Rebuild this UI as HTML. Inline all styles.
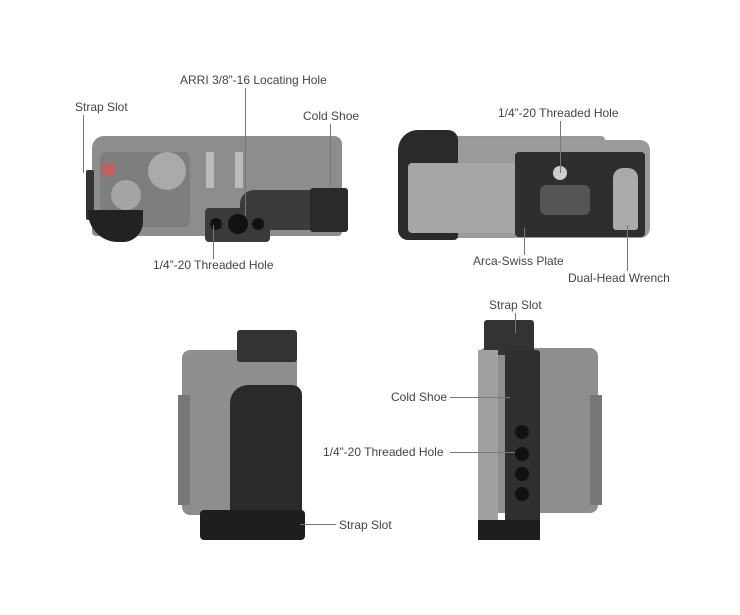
<!DOCTYPE html>
<html><head><style>
body{margin:0;background:#fff;}
#c{position:relative;width:740px;height:615px;overflow:hidden;background:#fff;font-family:"Liberation Sans",sans-serif;}
.t{position:absolute;font-size:12px;color:#444;white-space:nowrap;}
.b{position:absolute;}
.l{position:absolute;background:#777;}
</style></head><body><div id="c">
<div class="b" style="left:92px;top:136px;width:250px;height:100px;background:#8d8d8d;border-radius:12px 8px 4px 4px;"></div>
<div class="b" style="left:100px;top:152px;width:90px;height:75px;background:#7e7e7e;border-radius:6px;"></div>
<div class="b" style="left:102px;top:163px;width:14px;height:14px;background:#c06060;border-radius:50%;"></div>
<div class="b" style="left:111px;top:180px;width:30px;height:30px;background:#a5a5a5;border-radius:50%;"></div>
<div class="b" style="left:148px;top:152px;width:38px;height:38px;background:#aaa;border-radius:50%;"></div>
<div class="b" style="left:206px;top:152px;width:8px;height:36px;background:#bbb;"></div>
<div class="b" style="left:235px;top:152px;width:8px;height:36px;background:#bbb;"></div>
<div class="b" style="left:86px;top:170px;width:8px;height:50px;background:#333;border-radius:2px;"></div>
<div class="b" style="left:88px;top:210px;width:55px;height:32px;background:#222;border-radius:0 0 20px 30px;"></div>
<div class="b" style="left:240px;top:190px;width:102px;height:40px;background:#3b3b3b;border-radius:14px 0 0 0;"></div>
<div class="b" style="left:310px;top:188px;width:38px;height:44px;background:#2a2a2a;border-radius:3px;"></div>
<div class="b" style="left:205px;top:208px;width:65px;height:34px;background:#3a3a3a;border-radius:4px;"></div>
<div class="b" style="left:228px;top:214px;width:20px;height:20px;background:#111;border-radius:50%;"></div>
<div class="b" style="left:210px;top:218px;width:12px;height:12px;background:#111;border-radius:50%;"></div>
<div class="b" style="left:252px;top:218px;width:12px;height:12px;background:#111;border-radius:50%;"></div>
<div class="b" style="left:440px;top:136px;width:165px;height:24px;background:#9a9a9a;border-radius:4px;"></div>
<div class="b" style="left:400px;top:140px;width:250px;height:98px;background:#9b9b9b;border-radius:10px;"></div>
<div class="b" style="left:398px;top:130px;width:60px;height:110px;background:#2a2a2a;border-radius:20px 10px 4px 10px;"></div>
<div class="b" style="left:408px;top:163px;width:110px;height:70px;background:#a6a6a6;border-radius:4px;"></div>
<div class="b" style="left:515px;top:152px;width:130px;height:85px;background:#2e2e2e;border-radius:4px;"></div>
<div class="b" style="left:540px;top:185px;width:50px;height:30px;background:#555;border-radius:6px;"></div>
<div class="b" style="left:553px;top:166px;width:14px;height:14px;background:#ccc;border-radius:50%;"></div>
<div class="b" style="left:613px;top:168px;width:25px;height:62px;background:#aaa;border-radius:10px 10px 3px 3px;"></div>
<div class="b" style="left:182px;top:350px;width:115px;height:165px;background:#8e8e8e;border-radius:8px;"></div>
<div class="b" style="left:178px;top:395px;width:12px;height:110px;background:#777;"></div>
<div class="b" style="left:237px;top:330px;width:60px;height:32px;background:#333;border-radius:3px;"></div>
<div class="b" style="left:230px;top:385px;width:72px;height:130px;background:#2a2a2a;border-radius:18px 10px 4px 4px;"></div>
<div class="b" style="left:200px;top:510px;width:105px;height:30px;background:#1e1e1e;border-radius:4px;"></div>
<div class="b" style="left:478px;top:348px;width:120px;height:165px;background:#8e8e8e;border-radius:8px;"></div>
<div class="b" style="left:590px;top:395px;width:12px;height:110px;background:#777;"></div>
<div class="b" style="left:484px;top:320px;width:50px;height:35px;background:#333;border-radius:3px;"></div>
<div class="b" style="left:478px;top:350px;width:20px;height:175px;background:#a0a0a0;"></div>
<div class="b" style="left:505px;top:350px;width:35px;height:190px;background:#2f2f2f;border-radius:3px;"></div>
<div class="b" style="left:515px;top:425px;width:14px;height:14px;background:#111;border-radius:50%;"></div>
<div class="b" style="left:515px;top:447px;width:14px;height:14px;background:#111;border-radius:50%;"></div>
<div class="b" style="left:515px;top:467px;width:14px;height:14px;background:#111;border-radius:50%;"></div>
<div class="b" style="left:515px;top:487px;width:14px;height:14px;background:#111;border-radius:50%;"></div>
<div class="b" style="left:478px;top:520px;width:62px;height:20px;background:#1e1e1e;"></div>
<div class="l" style="left:245px;top:88px;width:1px;height:128px;"></div>
<div class="l" style="left:83px;top:115px;width:1px;height:58px;"></div>
<div class="l" style="left:330px;top:124px;width:1px;height:63px;"></div>
<div class="l" style="left:213px;top:225px;width:1px;height:34px;"></div>
<div class="l" style="left:560px;top:121px;width:1px;height:52px;"></div>
<div class="l" style="left:524px;top:228px;width:1px;height:27px;"></div>
<div class="l" style="left:627px;top:225px;width:1px;height:46px;"></div>
<div class="l" style="left:515px;top:313px;width:1px;height:20px;"></div>
<div class="l" style="left:450px;top:397px;width:60px;height:1px;"></div>
<div class="l" style="left:450px;top:452px;width:65px;height:1px;"></div>
<div class="l" style="left:300px;top:524px;width:36px;height:1px;"></div>
<div class="t" style="left:180px;top:73px;">ARRI 3/8”-16 Locating Hole</div>
<div class="t" style="left:75px;top:100px;">Strap Slot</div>
<div class="t" style="left:303px;top:109px;">Cold Shoe</div>
<div class="t" style="left:153px;top:258px;">1/4”-20 Threaded Hole</div>
<div class="t" style="left:498px;top:106px;">1/4”-20 Threaded Hole</div>
<div class="t" style="left:473px;top:254px;">Arca-Swiss Plate</div>
<div class="t" style="left:568px;top:271px;">Dual-Head Wrench</div>
<div class="t" style="left:489px;top:298px;">Strap Slot</div>
<div class="t" style="left:391px;top:390px;">Cold Shoe</div>
<div class="t" style="left:323px;top:445px;">1/4”-20 Threaded Hole</div>
<div class="t" style="left:339px;top:518px;">Strap Slot</div>
</div></body></html>
